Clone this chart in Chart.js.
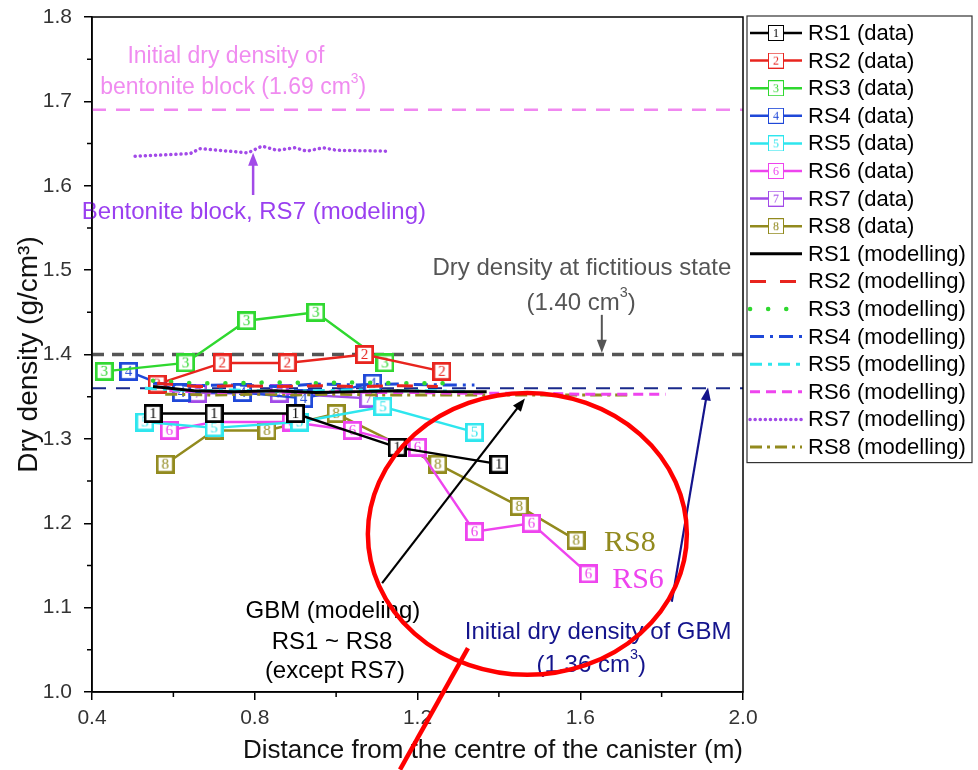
<!DOCTYPE html>
<html><head><meta charset="utf-8">
<script src="https://cdn.jsdelivr.net/npm/chart.js@4.4.0/dist/chart.umd.min.js"></script>
<style>html,body{margin:0;padding:0;background:#fff;}#wrap{width:978px;height:770px;}</style>
</head><body><div id="wrap"><canvas id="c" width="978" height="770"></canvas></div>
<script>
// ---------- data ----------
const SERIES = ['RS1','RS2','RS3','RS4','RS5','RS6','RS7','RS8'];
const DIST_TICKS = [0.4, 0.8, 1.2, 1.6, 2.0];
const DENS_TICKS = [1.0, 1.1, 1.2, 1.3, 1.4, 1.5, 1.6, 1.7, 1.8];

const RS1_DATA = [[0.55,1.33],[0.70,1.33],[0.90,1.33],[1.15,1.29],[1.40,1.27]];
const RS2_DATA = [[0.56,1.365],[0.72,1.39],[0.88,1.39],[1.07,1.40],[1.26,1.38]];
const RS3_DATA = [[0.43,1.38],[0.63,1.39],[0.78,1.44],[0.95,1.45],[1.12,1.39]];
const RS4_DATA = [[0.49,1.38],[0.62,1.355],[0.77,1.355],[0.92,1.348],[1.09,1.366]];
const RS5_DATA = [[0.53,1.32],[0.70,1.313],[0.91,1.32],[1.115,1.338],[1.34,1.308]];
const RS6_DATA = [[0.59,1.31],[0.70,1.32],[0.89,1.32],[1.04,1.31],[1.20,1.29],[1.34,1.19],[1.48,1.20],[1.62,1.14]];
const RS7_DATA = [[0.66,1.354],[0.86,1.354],[1.08,1.348]];
const RS8_DATA = [[0.58,1.27],[0.70,1.31],[0.83,1.31],[1.00,1.33],[1.25,1.27],[1.45,1.22],[1.59,1.18]];

const RS1_MOD = [[0.55,1.362],[0.65,1.357],[0.75,1.356],[0.85,1.357],[0.95,1.355],[1.05,1.356],[1.15,1.357],[1.25,1.356],[1.37,1.356]];
const RS2_MOD = [[0.56,1.366],[0.66,1.362],[0.76,1.363],[0.86,1.362],[0.96,1.363],[1.06,1.362],[1.16,1.363],[1.25,1.362]];
const RS3_MOD = [[0.55,1.369],[0.65,1.366],[0.75,1.366],[0.85,1.367],[0.95,1.366],[1.05,1.367],[1.15,1.366],[1.30,1.366]];
const RS4_MOD = [[0.55,1.366],[0.65,1.363],[0.75,1.364],[0.85,1.362],[0.95,1.365],[1.05,1.364],[1.15,1.365],[1.25,1.364],[1.34,1.364]];
const RS5_MOD = [[0.53,1.360],[0.65,1.357],[0.75,1.358],[0.85,1.356],[0.95,1.357],[1.05,1.358],[1.15,1.357],[1.25,1.357],[1.33,1.356]];
const RS6_MOD = [[0.59,1.357],[0.70,1.355],[0.80,1.356],[0.90,1.355],[1.00,1.356],[1.10,1.355],[1.20,1.355],[1.30,1.354],[1.40,1.354],[1.50,1.354],[1.60,1.353],[1.70,1.353],[1.81,1.353]];
const RS7_MOD = [[0.506,1.635],[0.641,1.638],[0.665,1.644],[0.783,1.639],[0.818,1.647],[0.855,1.642],[0.899,1.645],[0.928,1.641],[0.968,1.645],[1.002,1.642],[1.125,1.641]];
const RS8_MOD = [[0.58,1.353],[0.70,1.352],[0.80,1.353],[0.90,1.352],[1.00,1.353],[1.10,1.352],[1.20,1.352],[1.30,1.352],[1.40,1.352],[1.50,1.352],[1.60,1.352],[1.72,1.352]];

const REF_BENTONITE = 1.69;
const REF_FICTITIOUS = 1.40;
const REF_GBM = 1.36;

// ---------- styles ----------
const COLORS = ['#000000','#e8241e','#2fd82f','#1f48d8','#2ee6ee','#ee44ee','#a24ae8','#928a1e'];
const MOD_STYLE = [
  {dash:[], w:3, cap:'butt'},
  {dash:[16,14], w:3, cap:'butt'},
  {dash:[0.1,18], w:4.5, cap:'round'},
  {dash:[14,6,3,6], w:3, cap:'butt'},
  {dash:[12,6,4,6], w:3, cap:'butt'},
  {dash:[10,6], w:3, cap:'butt'},
  {dash:[0.1,5], w:3.5, cap:'round'},
  {dash:[12,5,3,5], w:3, cap:'butt'}
];
const SANS = '"Liberation Sans", Arial, sans-serif';
const SERIF = '"Liberation Serif", "Times New Roman", serif';

function pts(a){ return a.map(p => ({x:p[0], y:p[1]})); }

function makeMarker(num, color, size, lw, fpx){
  const c = document.createElement('canvas'); c.width = size; c.height = size;
  const g = c.getContext('2d');
  g.fillStyle = '#fff'; g.fillRect(0,0,size,size);
  g.strokeStyle = color; g.lineWidth = lw; g.strokeRect(lw/2, lw/2, size-lw, size-lw);
  g.fillStyle = color; g.font = fpx + 'px ' + SERIF; g.textAlign = 'center'; g.textBaseline = 'middle';
  g.fillText(String(num), size/2, size/2 + 1);
  return c;
}
const PLOT_MARKERS = COLORS.map((c,i) => makeMarker(i+1, c, 19, 2.8, 15));
const LEGEND_MARKERS = COLORS.map((c,i) => makeMarker(i+1, c, 16, 1, 12));

const DATA_SETS = [RS1_DATA,RS2_DATA,RS3_DATA,RS4_DATA,RS5_DATA,RS6_DATA,RS7_DATA,RS8_DATA];
const MOD_SETS = [RS1_MOD,RS2_MOD,RS3_MOD,RS4_MOD,RS5_MOD,RS6_MOD,RS7_MOD,RS8_MOD];

const datasets = [];
SERIES.forEach((s,i) => {
  datasets.push({
    label: s + ' (data)', data: pts(DATA_SETS[i]), showLine: true,
    borderColor: COLORS[i], backgroundColor: '#fff', borderWidth: 2.4,
    pointStyle: PLOT_MARKERS[i], pointRadius: 9, pointHoverRadius: 9,
    order: 1, inLegend: true, legendMarker: LEGEND_MARKERS[i]
  });
});
SERIES.forEach((s,i) => {
  datasets.push({
    label: s + ' (modelling)', data: pts(MOD_SETS[i]), showLine: true,
    borderColor: COLORS[i], borderWidth: MOD_STYLE[i].w, borderDash: MOD_STYLE[i].dash,
    borderCapStyle: MOD_STYLE[i].cap, pointRadius: 0, order: 0, inLegend: true
  });
});
[[REF_BENTONITE,'#f088f0',2.5,[14,10]],[REF_FICTITIOUS,'#555555',3.5,[12,8]],[REF_GBM,'#1a2a8c',2,[14,10]]].forEach(r => {
  datasets.push({
    label: 'ref', data: [{x:DIST_TICKS[0], y:r[0]},{x:DIST_TICKS[DIST_TICKS.length-1], y:r[0]}],
    showLine: true, borderColor: r[1], borderWidth: r[2], borderDash: r[3], pointRadius: 0, order: 3, inLegend: false
  });
});

// ---------- annotations (data units) ----------
const TEXTS = [
  {x:0.729, y:1.7526, parts:[{t:'Initial dry density of'}], color:'#f08cf0', size:23, fam:SANS},
  {x:0.747, y:1.7159, parts:[{t:'bentonite block (1.69 cm'},{t:'3',sup:true},{t:')'}], color:'#f08cf0', size:23, fam:SANS},
  {x:0.798, y:1.568, parts:[{t:'Bentonite block, RS7 (modeling)'}], color:'#9a3ff0', size:24, fam:SANS},
  {x:1.604, y:1.5025, parts:[{t:'Dry density at fictitious state'}], color:'#555555', size:24, fam:SANS},
  {x:1.602, y:1.461, parts:[{t:'(1.40 cm'},{t:'3',sup:true},{t:')'}], color:'#555555', size:24, fam:SANS},
  {x:0.992, y:1.095, parts:[{t:'GBM (modeling)'}], color:'#000', size:24, fam:SANS},
  {x:0.99, y:1.059, parts:[{t:'RS1 ~ RS8'}], color:'#000', size:24, fam:SANS},
  {x:0.997, y:1.024, parts:[{t:'(except RS7)'}], color:'#000', size:24, fam:SANS},
  {x:1.644, y:1.071, parts:[{t:'Initial dry density of GBM'}], color:'#14148c', size:24, fam:SANS},
  {x:1.627, y:1.032, parts:[{t:'(1.36 cm'},{t:'3',sup:true},{t:')'}], color:'#14148c', size:24, fam:SANS},
  {x:1.722, y:1.177, parts:[{t:'RS8'}], color:'#928a1e', size:30, fam:SERIF},
  {x:1.742, y:1.133, parts:[{t:'RS6'}], color:'#ee44ee', size:30, fam:SERIF}
];
const ARROWS = [
  {x1:0.796, y1:1.589, x2:0.796, y2:1.639, color:'#a24ae8', w:2.5},
  {x1:1.653, y1:1.447, x2:1.653, y2:1.402, color:'#555555', w:2},
  {x1:1.113, y1:1.129, x2:1.464, y2:1.348, color:'#000000', w:2.2},
  {x1:1.825, y1:1.107, x2:1.914, y2:1.361, color:'#14148c', w:2.2}
];
const HIGHLIGHT = {cx:1.470, cy:1.1873, rx:0.392, ry:0.167, lx1:1.324, ly1:1.052, lx2:1.157, ly2:0.908};

function drawRich(ctx, parts, cx, cy, size, color, fam){
  ctx.save(); ctx.fillStyle = color; ctx.textBaseline = 'middle'; ctx.textAlign = 'left';
  let w = 0;
  const ws = parts.map(p => { ctx.font = (p.sup ? size*0.6 : size) + 'px ' + fam; const m = ctx.measureText(p.t).width; w += m; return m; });
  let x = cx - w/2;
  parts.forEach((p,i) => { ctx.font = (p.sup ? size*0.6 : size) + 'px ' + fam; ctx.fillText(p.t, x, p.sup ? cy - size*0.4 : cy); x += ws[i]; });
  ctx.restore();
}
function drawArrow(ctx, x1, y1, x2, y2, color, w){
  const a = Math.atan2(y2-y1, x2-x1), hl = 13, hw = 5;
  ctx.save(); ctx.strokeStyle = color; ctx.fillStyle = color; ctx.lineWidth = w; ctx.setLineDash([]);
  ctx.beginPath(); ctx.moveTo(x1,y1); ctx.lineTo(x2 - Math.cos(a)*hl*0.8, y2 - Math.sin(a)*hl*0.8); ctx.stroke();
  ctx.beginPath(); ctx.moveTo(x2,y2);
  ctx.lineTo(x2 - Math.cos(a)*hl - Math.sin(a)*hw, y2 - Math.sin(a)*hl + Math.cos(a)*hw);
  ctx.lineTo(x2 - Math.cos(a)*hl + Math.sin(a)*hw, y2 - Math.sin(a)*hl - Math.cos(a)*hw);
  ctx.closePath(); ctx.fill(); ctx.restore();
}

const annotPlugin = {
  id: 'annot',
  afterDatasetsDraw(chart){
    const ctx = chart.ctx, xs = chart.scales.x, ys = chart.scales.y;
    TEXTS.forEach(t => drawRich(ctx, t.parts, xs.getPixelForValue(t.x), ys.getPixelForValue(t.y), t.size, t.color, t.fam));
    ARROWS.forEach(a => drawArrow(ctx, xs.getPixelForValue(a.x1), ys.getPixelForValue(a.y1), xs.getPixelForValue(a.x2), ys.getPixelForValue(a.y2), a.color, a.w));
  },
  afterDraw(chart){
    const ctx = chart.ctx, xs = chart.scales.x, ys = chart.scales.y, ca = chart.chartArea;
    ctx.save();
    // frame
    ctx.strokeStyle = '#000'; ctx.lineWidth = 1.5; ctx.setLineDash([]);
    ctx.strokeRect(ca.left, ca.top, ca.right - ca.left, ca.bottom - ca.top);
    // minor ticks
    ctx.lineWidth = 1.5; ctx.beginPath();
    for (let i = 0; i < DENS_TICKS.length - 1; i++) {
      const py = ys.getPixelForValue((DENS_TICKS[i] + DENS_TICKS[i+1]) / 2);
      ctx.moveTo(ca.left - 5, py); ctx.lineTo(ca.left, py);
    }
    for (let i = 0; i < DIST_TICKS.length - 1; i++) {
      const px = xs.getPixelForValue((DIST_TICKS[i] + DIST_TICKS[i+1]) / 2);
      ctx.moveTo(px, ca.bottom); ctx.lineTo(px, ca.bottom + 5);
    }
    ctx.stroke();
    // legend
    const lx0 = ca.right + 4, lx1 = 972, ly0 = 16, rowH = 27.6;
    const items = chart.data.datasets.filter(d => d.inLegend);
    ctx.strokeStyle = '#333'; ctx.lineWidth = 1.2;
    ctx.strokeRect(lx0, ly0, lx1 - lx0, items.length * rowH + 5);
    items.forEach((d,i) => {
      const y = ly0 + 17 + i * rowH;
      ctx.strokeStyle = d.borderColor; ctx.lineWidth = d.legendMarker ? 2.5 : d.borderWidth;
      ctx.setLineDash(d.borderDash || []); ctx.lineCap = d.borderCapStyle || 'butt';
      ctx.beginPath(); ctx.moveTo(lx0 + 3, y); ctx.lineTo(lx0 + 55, y); ctx.stroke();
      ctx.setLineDash([]); ctx.lineCap = 'butt';
      if (d.legendMarker) ctx.drawImage(d.legendMarker, lx0 + 29 - 8, y - 8);
      ctx.fillStyle = '#000'; ctx.font = '22px ' + SANS; ctx.textAlign = 'left'; ctx.textBaseline = 'middle';
      ctx.fillText(d.label, lx0 + 61, y + 1);
    });
    // red highlight
    ctx.strokeStyle = '#ff0000'; ctx.lineWidth = 4.5; ctx.setLineDash([]);
    const cx = xs.getPixelForValue(HIGHLIGHT.cx), cy = ys.getPixelForValue(HIGHLIGHT.cy);
    const rx = xs.getPixelForValue(HIGHLIGHT.cx + HIGHLIGHT.rx) - cx, ry = cy - ys.getPixelForValue(HIGHLIGHT.cy + HIGHLIGHT.ry);
    ctx.beginPath(); ctx.ellipse(cx, cy, rx, ry, 0, 0, Math.PI*2); ctx.stroke();
    ctx.beginPath();
    ctx.moveTo(xs.getPixelForValue(HIGHLIGHT.lx1), ys.getPixelForValue(HIGHLIGHT.ly1));
    ctx.lineTo(xs.getPixelForValue(HIGHLIGHT.lx2), ys.getPixelForValue(HIGHLIGHT.ly2));
    ctx.stroke();
    ctx.restore();
  }
};

new Chart(document.getElementById('c'), {
  type: 'scatter',
  data: { datasets },
  options: {
    responsive: false, animation: false,
    layout: { padding: { top: 17, right: 235, bottom: 0, left: 0 } },
    plugins: { legend: { display: false }, tooltip: { enabled: false } },
    scales: {
      x: {
        type: 'linear', min: DIST_TICKS[0], max: DIST_TICKS[DIST_TICKS.length-1],
        afterBuildTicks: s => { s.ticks = DIST_TICKS.map(v => ({value: v})); },
        ticks: { callback: v => Number(v).toFixed(1), color: '#333', font: { size: 21, family: SANS }, padding: 6, maxRotation: 0 },
        grid: { drawOnChartArea: false, drawTicks: true, tickLength: 8, color: '#000', lineWidth: 1.5 },
        border: { display: true, color: '#000', width: 1.5 },
        title: { display: true, align: 'end', text: 'Distance from the centre of the canister (m)', color: '#111', font: { size: 26, family: SANS }, padding: { top: 0, bottom: 4 } },
        afterFit: s => { s.height = 78; s.paddingLeft = 0; s.paddingRight = 0; }
      },
      y: {
        type: 'linear', min: DENS_TICKS[0], max: DENS_TICKS[DENS_TICKS.length-1],
        afterBuildTicks: s => { s.ticks = DENS_TICKS.map(v => ({value: v})); },
        ticks: { callback: v => Number(v).toFixed(1), color: '#333', font: { size: 21, family: SANS }, padding: 12 },
        grid: { drawOnChartArea: false, drawTicks: true, tickLength: 8, color: '#000', lineWidth: 1.5 },
        border: { display: true, color: '#000', width: 1.5 },
        title: { display: true, text: 'Dry density (g/cm³)', color: '#111', font: { size: 28, family: SANS }, padding: { top: 12, bottom: 0 } },
        afterFit: s => { s.width = 92; s.paddingTop = 0; s.paddingBottom = 0; }
      }
    }
  },
  plugins: [annotPlugin]
});
</script></body></html>
